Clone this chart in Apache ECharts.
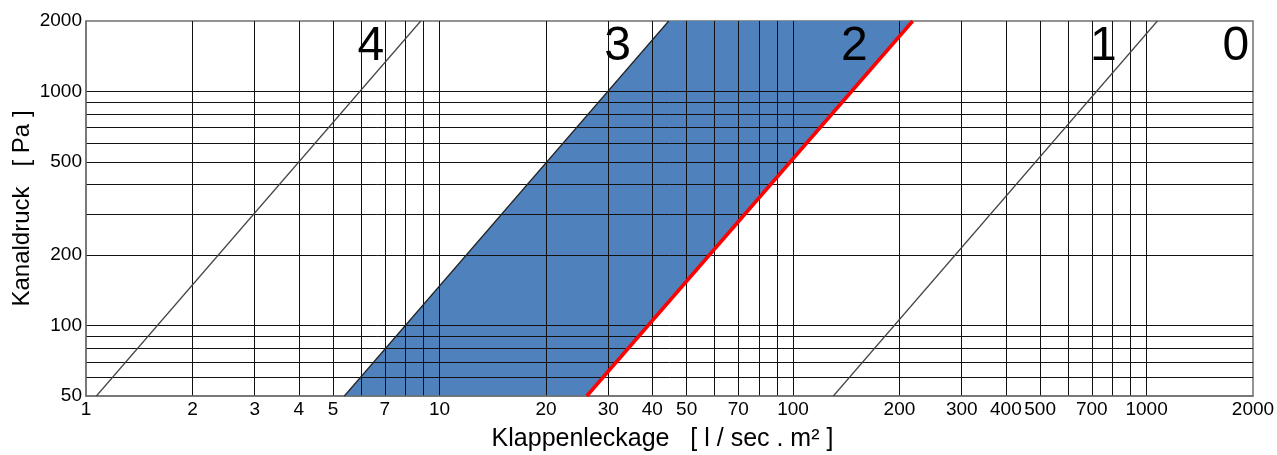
<!DOCTYPE html>
<html>
<head>
<meta charset="UTF-8">
<title>Klappenleckage</title>
<script type="text/javascript" src="https://cdn.jsdelivr.net/npm/echarts@6/dist/echarts.min.js"></script>
<style>
  html, body { margin: 0; padding: 0; background: #fff; }
  #chart { width: 1277px; height: 455px; }
</style>
</head>
<body>
<div id="chart"></div>
<script type="text/javascript">
// Achsen: Gitterlinien und Beschriftungen
var xGrid = [2, 3, 4, 5, 6, 7, 8, 9, 10, 20, 30, 40, 50, 60, 70, 80, 90, 100,
             200, 300, 400, 500, 600, 700, 800, 900, 1000];
var xLabels = [1, 2, 3, 4, 5, 7, 10, 20, 30, 40, 50, 70, 100, 200, 300, 400, 500, 700, 1000, 2000];
var yGrid = [60, 70, 80, 90, 100, 200, 300, 400, 500, 600, 700, 800, 900, 1000];
var yLabels = [50, 100, 200, 500, 1000, 2000];

// Klassenlinien [Leckage, Druck]
var class4 = [[1.07, 50], [8.85, 2000]];
var class3 = [[5.38, 50], [44.5, 2000]];
var class2 = [[26.1, 50], [218, 2000]];
var class1 = [[130, 50], [1073, 2000]];

// Klassen-Nummern
var classNames = ['4', '3', '2', '1', '0'];
var classPos = [[6.39, 1550], [31.9, 1550], [149, 1550], [755, 1550], [1789, 1550]];

var bandPoly = class3.concat(class2.slice().reverse());

var chart = echarts.init(document.getElementById('chart'));
var font = 'Liberation Sans, Arial, sans-serif';
var plain = function (v) { return String(Math.round(v)); };

var option = {
  animation: false,
  backgroundColor: '#fff',
  grid: {
    left: 86, right: 24, top: 21, bottom: 59,
    show: true, borderColor: '#707070', borderWidth: 1.5,
    containLabel: false, outerBoundsMode: 'none'
  },
  xAxis: {
    type: 'log', logBase: 10, min: 1, max: 2000, z: 5,
    name: 'Klappenleckage   [ l / sec . m\u00b2 ]',
    nameLocation: 'middle', nameGap: 31, nameMoveOverlap: false,
    nameTextStyle: { fontSize: 25, color: '#000', fontFamily: font, padding: [0, 14, 0, 0] },
    axisLine: { show: true, lineStyle: { color: '#707070', width: 1.5 } },
    axisTick: { show: false, customValues: xGrid },
    axisLabel: { customValues: xLabels, formatter: plain, fontSize: 19, color: '#000', fontFamily: font, margin: 4, hideOverlap: false },
    splitLine: { show: true, lineStyle: { color: '#111', width: 1 } },
    minorSplitLine: { show: false }
  },
  yAxis: {
    type: 'log', logBase: 10, min: 50, max: 2000, z: 5,
    name: 'Kanaldruck   [ Pa ]',
    nameLocation: 'middle', nameGap: 52, nameRotate: 90, nameMoveOverlap: false,
    nameTextStyle: { fontSize: 24, color: '#000', fontFamily: font },
    axisLine: { show: true, lineStyle: { color: '#707070', width: 1.5 } },
    axisTick: { show: false, customValues: yGrid },
    axisLabel: { customValues: yLabels, formatter: plain, fontSize: 19, color: '#000', fontFamily: font, margin: 4, hideOverlap: false },
    splitLine: { show: true, lineStyle: { color: '#111', width: 1 } }
  },
  series: [
    {
      type: 'custom', z: 1, silent: true,
      data: bandPoly,
      renderItem: function (params, api) {
        if (params.dataIndex !== 0) return null;
        var pts = bandPoly.map(function (p) { return api.coord(p); });
        return { type: 'polygon', shape: { points: pts }, style: { fill: '#4f81bd' } };
      }
    },
    { type: 'line', z: 6, symbol: 'none', data: class4, lineStyle: { color: '#444', width: 1.2 } },
    { type: 'line', z: 6, symbol: 'none', data: class3, lineStyle: { color: '#222', width: 1.2 } },
    { type: 'line', z: 7, symbol: 'none', data: class2, lineStyle: { color: '#ff0000', width: 3.5 } },
    { type: 'line', z: 6, symbol: 'none', data: class1, lineStyle: { color: '#444', width: 1.2 } },
    {
      type: 'scatter', z: 8, symbolSize: 0, silent: true,
      itemStyle: { opacity: 1 },
      data: classPos.map(function (p, i) { return { value: p, name: classNames[i] }; }),
      label: {
        show: true, position: 'inside', formatter: '{b}',
        fontSize: 48, color: '#000', fontFamily: font, textBorderWidth: 0
      }
    }
  ]
};

chart.setOption(option);
</script>
</body>
</html>
